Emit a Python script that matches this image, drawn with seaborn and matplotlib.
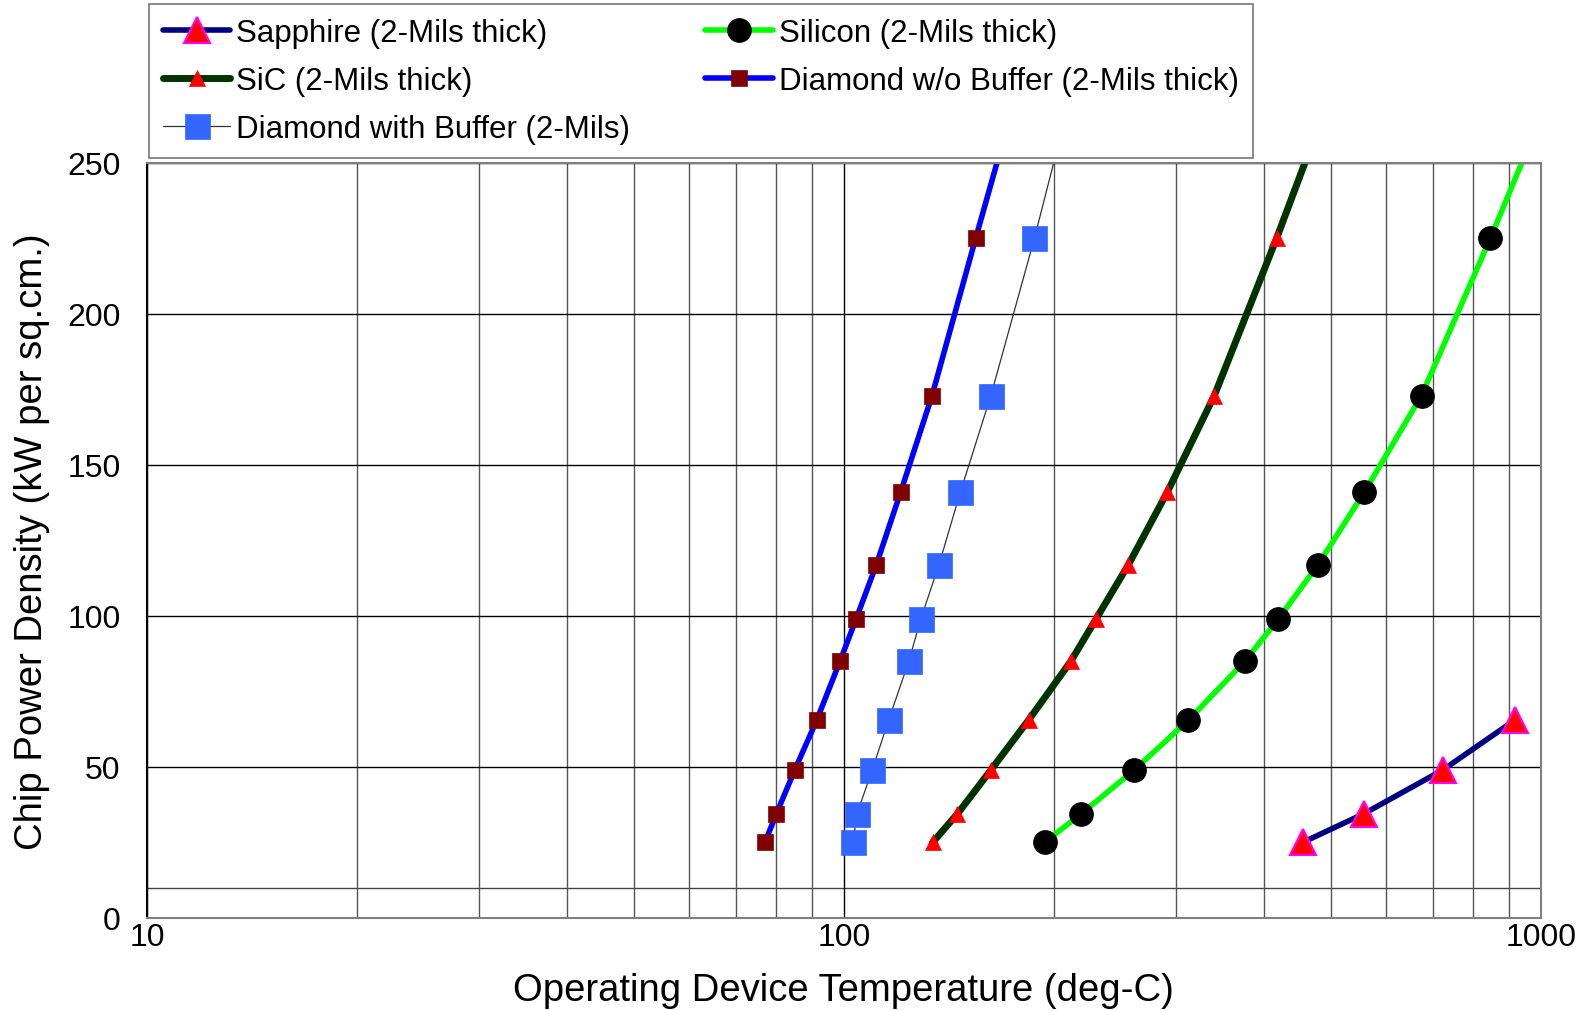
import matplotlib
matplotlib.use("Agg")
import matplotlib.pyplot as plt
import seaborn as sns
import numpy as np
import pandas as pd
from matplotlib.ticker import FixedLocator, NullFormatter

sns.set_theme(style="white")
plt.rcParams['font.family'] = ['Liberation Sans', 'DejaVu Sans']
plt.rcParams['text.color'] = 'black'
plt.rcParams['axes.labelcolor'] = 'black'

# ---- data ----
power = [25, 34.5, 49, 65.5, 85, 99, 117, 141, 173, 225, 280]

sapphire_T = [455, 557, 723, 917]
sapphire_P = [25, 34.5, 49, 65.5]

silicon_T = [194, 219, 261, 312, 376, 420, 479, 558, 674, 846, 1063]
sic_T = [134, 145.5, 162.5, 184, 211.6, 230, 256, 291, 340, 417.5, 513]
diamond_nobuf_T = [77, 80, 85, 91.4, 98.7, 104.1, 111.3, 120.6, 133.8, 154.5, 180.4]
diamond_buf_T = [103.1, 104.4, 109.8, 115.9, 123.9, 128.9, 136.9, 146.9, 162.5, 187.6, 215.8]

labels = ["Sapphire (2-Mils thick)", "Silicon (2-Mils thick)", "SiC (2-Mils thick)",
          "Diamond w/o Buffer (2-Mils thick)", "Diamond with Buffer (2-Mils)"]

y_ticks = [0, 50, 100, 150, 200, 250]
x_ticks = [10, 100, 1000]

fig = plt.figure(figsize=(15.85, 10.12), dpi=100)
ax = fig.add_axes([0.0927, 0.0919, 0.8795, 0.7461])

def draw(x, y, label, **kw):
    sns.lineplot(x=x, y=y, ax=ax, sort=False, estimator=None, label=label, **kw)

draw(sapphire_T, sapphire_P, labels[0], color="#000080", lw=4, marker="^",
     markersize=19, markerfacecolor="red", markeredgecolor="#ff00ff", markeredgewidth=1.5)
draw(silicon_T, power, labels[1], color="#00ff00", lw=4, marker="o",
     markersize=17, markerfacecolor="black", markeredgecolor="black")
draw(sic_T, power, labels[2], color="#003300", lw=5, marker="^",
     markersize=11, markerfacecolor="red", markeredgecolor="red", markeredgewidth=0.5)
draw(diamond_nobuf_T, power, labels[3], color="#0000ff", lw=4, marker="s",
     markersize=12, markerfacecolor="#800000", markeredgecolor="#800000", markeredgewidth=0.5)
draw(diamond_buf_T, power, labels[4], color="#333333", lw=0.9, marker="s",
     markersize=18, markerfacecolor="#3366ff", markeredgecolor="#3366ff", markeredgewidth=0.5)

ax.set_xscale("log")
ax.set_xlim(10, 1000)
ax.set_ylim(0, 250)

ax.xaxis.set_major_locator(FixedLocator(x_ticks))
ax.set_xticklabels([str(v) for v in x_ticks])
minor = [m * d for d in (10, 100) for m in range(2, 10)]
ax.xaxis.set_minor_locator(FixedLocator(minor))
ax.xaxis.set_minor_formatter(NullFormatter())
ax.set_yticks(y_ticks)
ax.set_yticklabels([str(v) for v in y_ticks])

ax.grid(True, which="major", axis="both", color="black", lw=1.0)
ax.grid(True, which="minor", axis="x", color="#555555", lw=1.0)
ax.axhline(10, color="#444444", lw=1.0, zorder=0.5)
ax.set_axisbelow(True)

ax.tick_params(axis="both", which="both", length=0, labelsize=23, colors="black")
ax.tick_params(axis="y", pad=19)
ax.tick_params(axis="x", pad=3)
for s in ["top", "right", "bottom"]:
    ax.spines[s].set_color("#808080")
    ax.spines[s].set_linewidth(1.5)
ax.spines["left"].set_color("black")
ax.spines["left"].set_linewidth(1.5)

ax.set_xlabel("Operating Device Temperature (deg-C)", fontsize=27.5, color="black", labelpad=14)
ax.set_ylabel("Chip Power Density (kW per sq.cm.)", fontsize=27.5, color="black", labelpad=12)

handles, labs = ax.get_legend_handles_labels()
order = [0, 2, 4, 1, 3]
ax.get_legend().remove()
leg = fig.legend([handles[i] for i in order], [labs[i] for i in order], ncol=2,
                 loc="upper left", bbox_to_anchor=(0.094, 0.995),
                 bbox_transform=fig.transFigure, fontsize=22.5, frameon=True, fancybox=False,
                 edgecolor="#555555", handlelength=2.15, handletextpad=0.2, labelspacing=0.57,
                 borderpad=0.45, columnspacing=2.4, borderaxespad=0)
leg.get_frame().set_linewidth(1.2)
for t in leg.get_texts():
    t.set_color("black")

fig.savefig("out.png", dpi=100)
